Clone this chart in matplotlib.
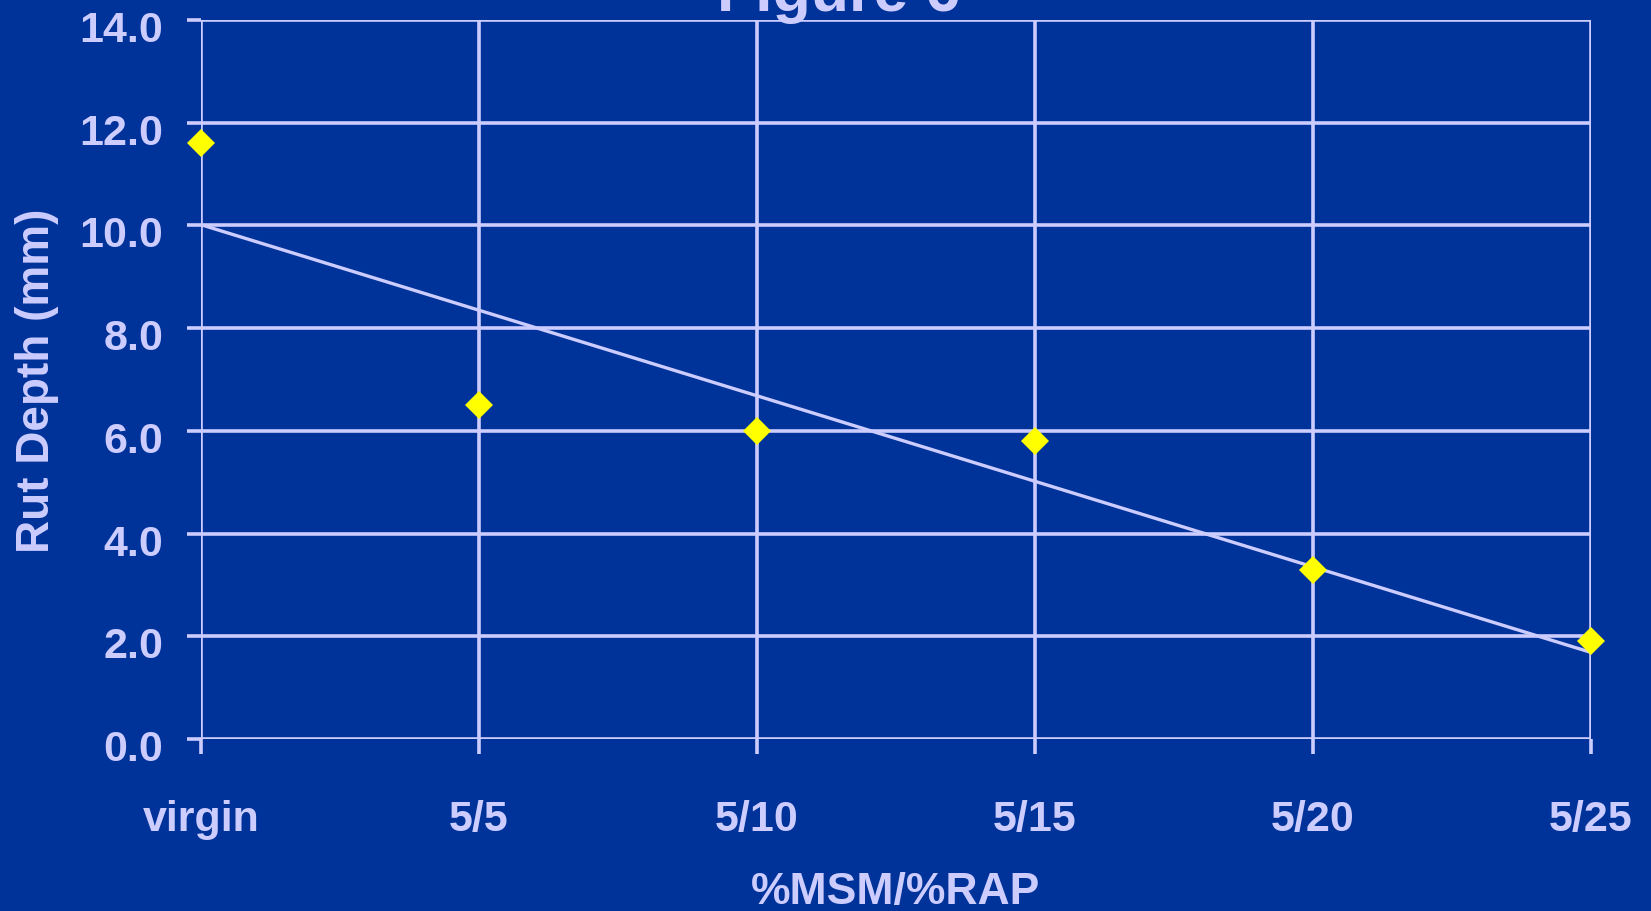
import numpy as np
import matplotlib.pyplot as plt
from matplotlib.transforms import ScaledTranslation

# Rut depth for each MSM/RAP blend
blends = ['virgin', '5/5', '5/10', '5/15', '5/20', '5/25']
rut_depth = [11.6, 6.5, 6.0, 5.8, 3.3, 1.9]
y_ticks = [0.0, 2.0, 4.0, 6.0, 8.0, 10.0, 12.0, 14.0]

bg = '#003399'
fg = '#CCCCFF'

plt.rcParams['font.family'] = ['Liberation Sans', 'DejaVu Sans']
plt.rcParams['font.weight'] = 'bold'

fig = plt.figure(figsize=(16.51, 9.12), dpi=100, facecolor=bg)
ax = fig.add_axes([0.1217, 0.1886, 0.8420, 0.7884])
ax.set_facecolor(bg)

x = np.arange(len(blends))

# linear trend through the points
slope, intercept = np.polyfit(x, rut_depth, 1)
ax.plot(x, slope * x + intercept, color=fg, lw=2.4, zorder=3)
ax.plot(x, rut_depth, linestyle='none', marker='D', markersize=14,
        color='#FFFF00', markeredgewidth=0, zorder=4, clip_on=False)

ax.set_xlim(0, len(blends) - 1)
ax.set_ylim(0, 14)
ax.set_xticks(x)
ax.set_xticklabels(blends)
ax.set_yticks(y_ticks)
ax.set_yticklabels([f'{v:.1f}' for v in y_ticks])

ax.grid(True, color=fg, lw=2.6)
ax.set_axisbelow(True)
for side in ['top', 'right', 'left', 'bottom']:
    ax.spines[side].set_visible(False)

ax.tick_params(axis='x', colors=fg, labelsize=31, length=11, width=2.6, pad=32)
ax.tick_params(axis='y', colors=fg, labelsize=31, length=10, width=2.6, pad=17)

# nudge the y tick labels down a little
shift = ScaledTranslation(0, -4 / 72, fig.dpi_scale_trans)
for lab in ax.get_yticklabels():
    lab.set_transform(lab.get_transform() + shift)

ax.set_xlabel('%MSM/%RAP', color=fg, fontsize=32, fontweight='bold')
ax.set_ylabel('Rut Depth (mm)', color=fg, fontsize=33, fontweight='bold')
ax.xaxis.set_label_coords(0.5, -0.184)
ax.yaxis.set_label_coords(-0.102, 0.5)

fig.text(0.508, 1 - 11 / 912, 'Figure 6', color=fg, fontsize=45,
         fontweight='bold', ha='center', va='baseline')

fig.savefig('out.png', dpi=100, facecolor=bg)
